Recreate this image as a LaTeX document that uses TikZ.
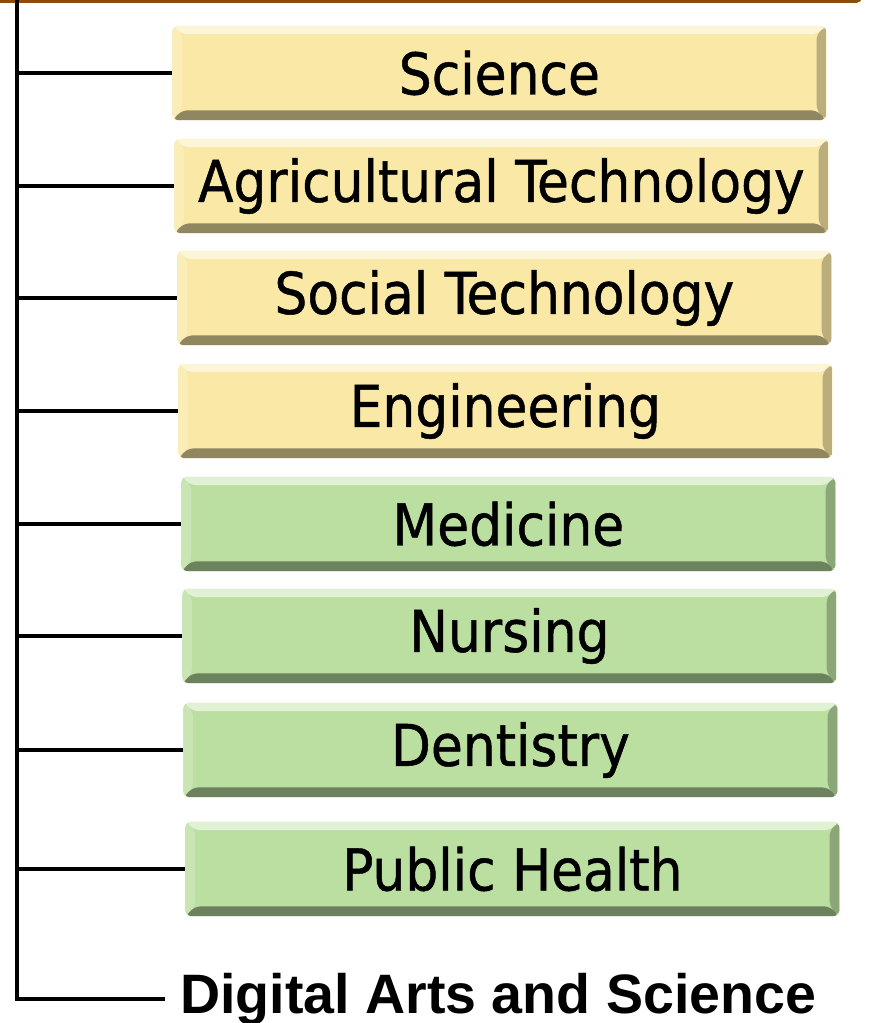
\documentclass[tikz,border=0pt]{standalone}
\usepackage{fontspec}
\setmainfont{DejaVu Sans Condensed}
\newfontfamily\boxfont{DejaVu Sans Condensed}[FakeBold=0.8]
\newfontfamily\headfont{Liberation Sans}
\usetikzlibrary{positioning}

\definecolor{barbrown}{RGB}{140,76,14}
\definecolor{facyellow}{RGB}{249,232,166}
\definecolor{facgreen}{RGB}{186,223,160}

\tikzset{
  facbox/.style={%
    fill=#1,
    rounded corners=4pt,
    anchor=west,
    minimum width=16.35cm,
    minimum height=2.36cm,
    inner sep=0pt,
    font=\boxfont\fontsize{41}{44}\selectfont,
    path picture={%
      \coordinate (nw) at (path picture bounding box.north west) ;
      \coordinate (ne) at (path picture bounding box.north east) ;
      \coordinate (sw) at (path picture bounding box.south west) ;
      \coordinate (se) at (path picture bounding box.south east) ;
      % haut et gauche
      \fill [#1!45!white]
            (nw) -- (ne) -- ++(-7pt,-6pt) -- ([shift={(7pt,-6pt)}]nw) -- cycle ;
      \fill [#1!80!white]
            (nw) -- ([shift={(7pt,-6pt)}]nw) -- ([shift={(7pt,7pt)}]sw) -- (sw) -- cycle ;
      % bas et droite
      \fill [#1!75!black]
            (ne) -- (se) -- ([shift={(-7pt,7pt)}]se) -- ([shift={(-7pt,-6pt)}]ne) -- cycle ;
      \fill [#1!58!black]
            (sw) -- (se) -- ([shift={(-7pt,7pt)}]se) -- ([shift={(7pt,7pt)}]sw) -- cycle ;
    },
  },
  branch/.style={line width=3pt},
}

\begin{document}
\begin{tikzpicture}[
  x=0.025cm,
  y=-0.025cm,
]
  \useasboundingbox (0,0) rectangle (871,1023) ;

  % barre du haut
  \fill [barbrown, rounded corners=4pt]
        (-20,-20) rectangle (862,3) ;

  \coordinate (trunk) at (17,0) ;

  \node [facbox=facyellow] (sci) at (172, 73) {Science} ;
  \node [facbox=facyellow] (agr) at (174,186) {Agricultural Technology} ;
  \node [facbox=facyellow] (soc) at (177,298) {Social Technology} ;
  \node [facbox=facyellow] (eng) at (178,411) {Engineering} ;
  \node [facbox=facgreen]  (med) at (181,524) {Medicine} ;
  \node [facbox=facgreen]  (nur) at (182,636) {Nursing} ;
  \node [facbox=facgreen]  (den) at (183,750) {Dentistry} ;
  \node [facbox=facgreen]  (pub) at (185,869) {Public Health} ;

  \node [anchor=base west, inner sep=0pt,
         font=\headfont\bfseries\fontsize{39.5}{42}\selectfont]
        (dig) at (180,1013) {Digital Arts and Science} ;

  % tronc et branches
  \draw [branch] (trunk) |- ([xshift=-11pt]dig.west) ;
  \foreach \n in {sci, agr, soc, eng, med, nur, den, pub} {
    \draw [branch] (\n.west -| trunk) -- (\n.west) ;
  }
\end{tikzpicture}
\end{document}
